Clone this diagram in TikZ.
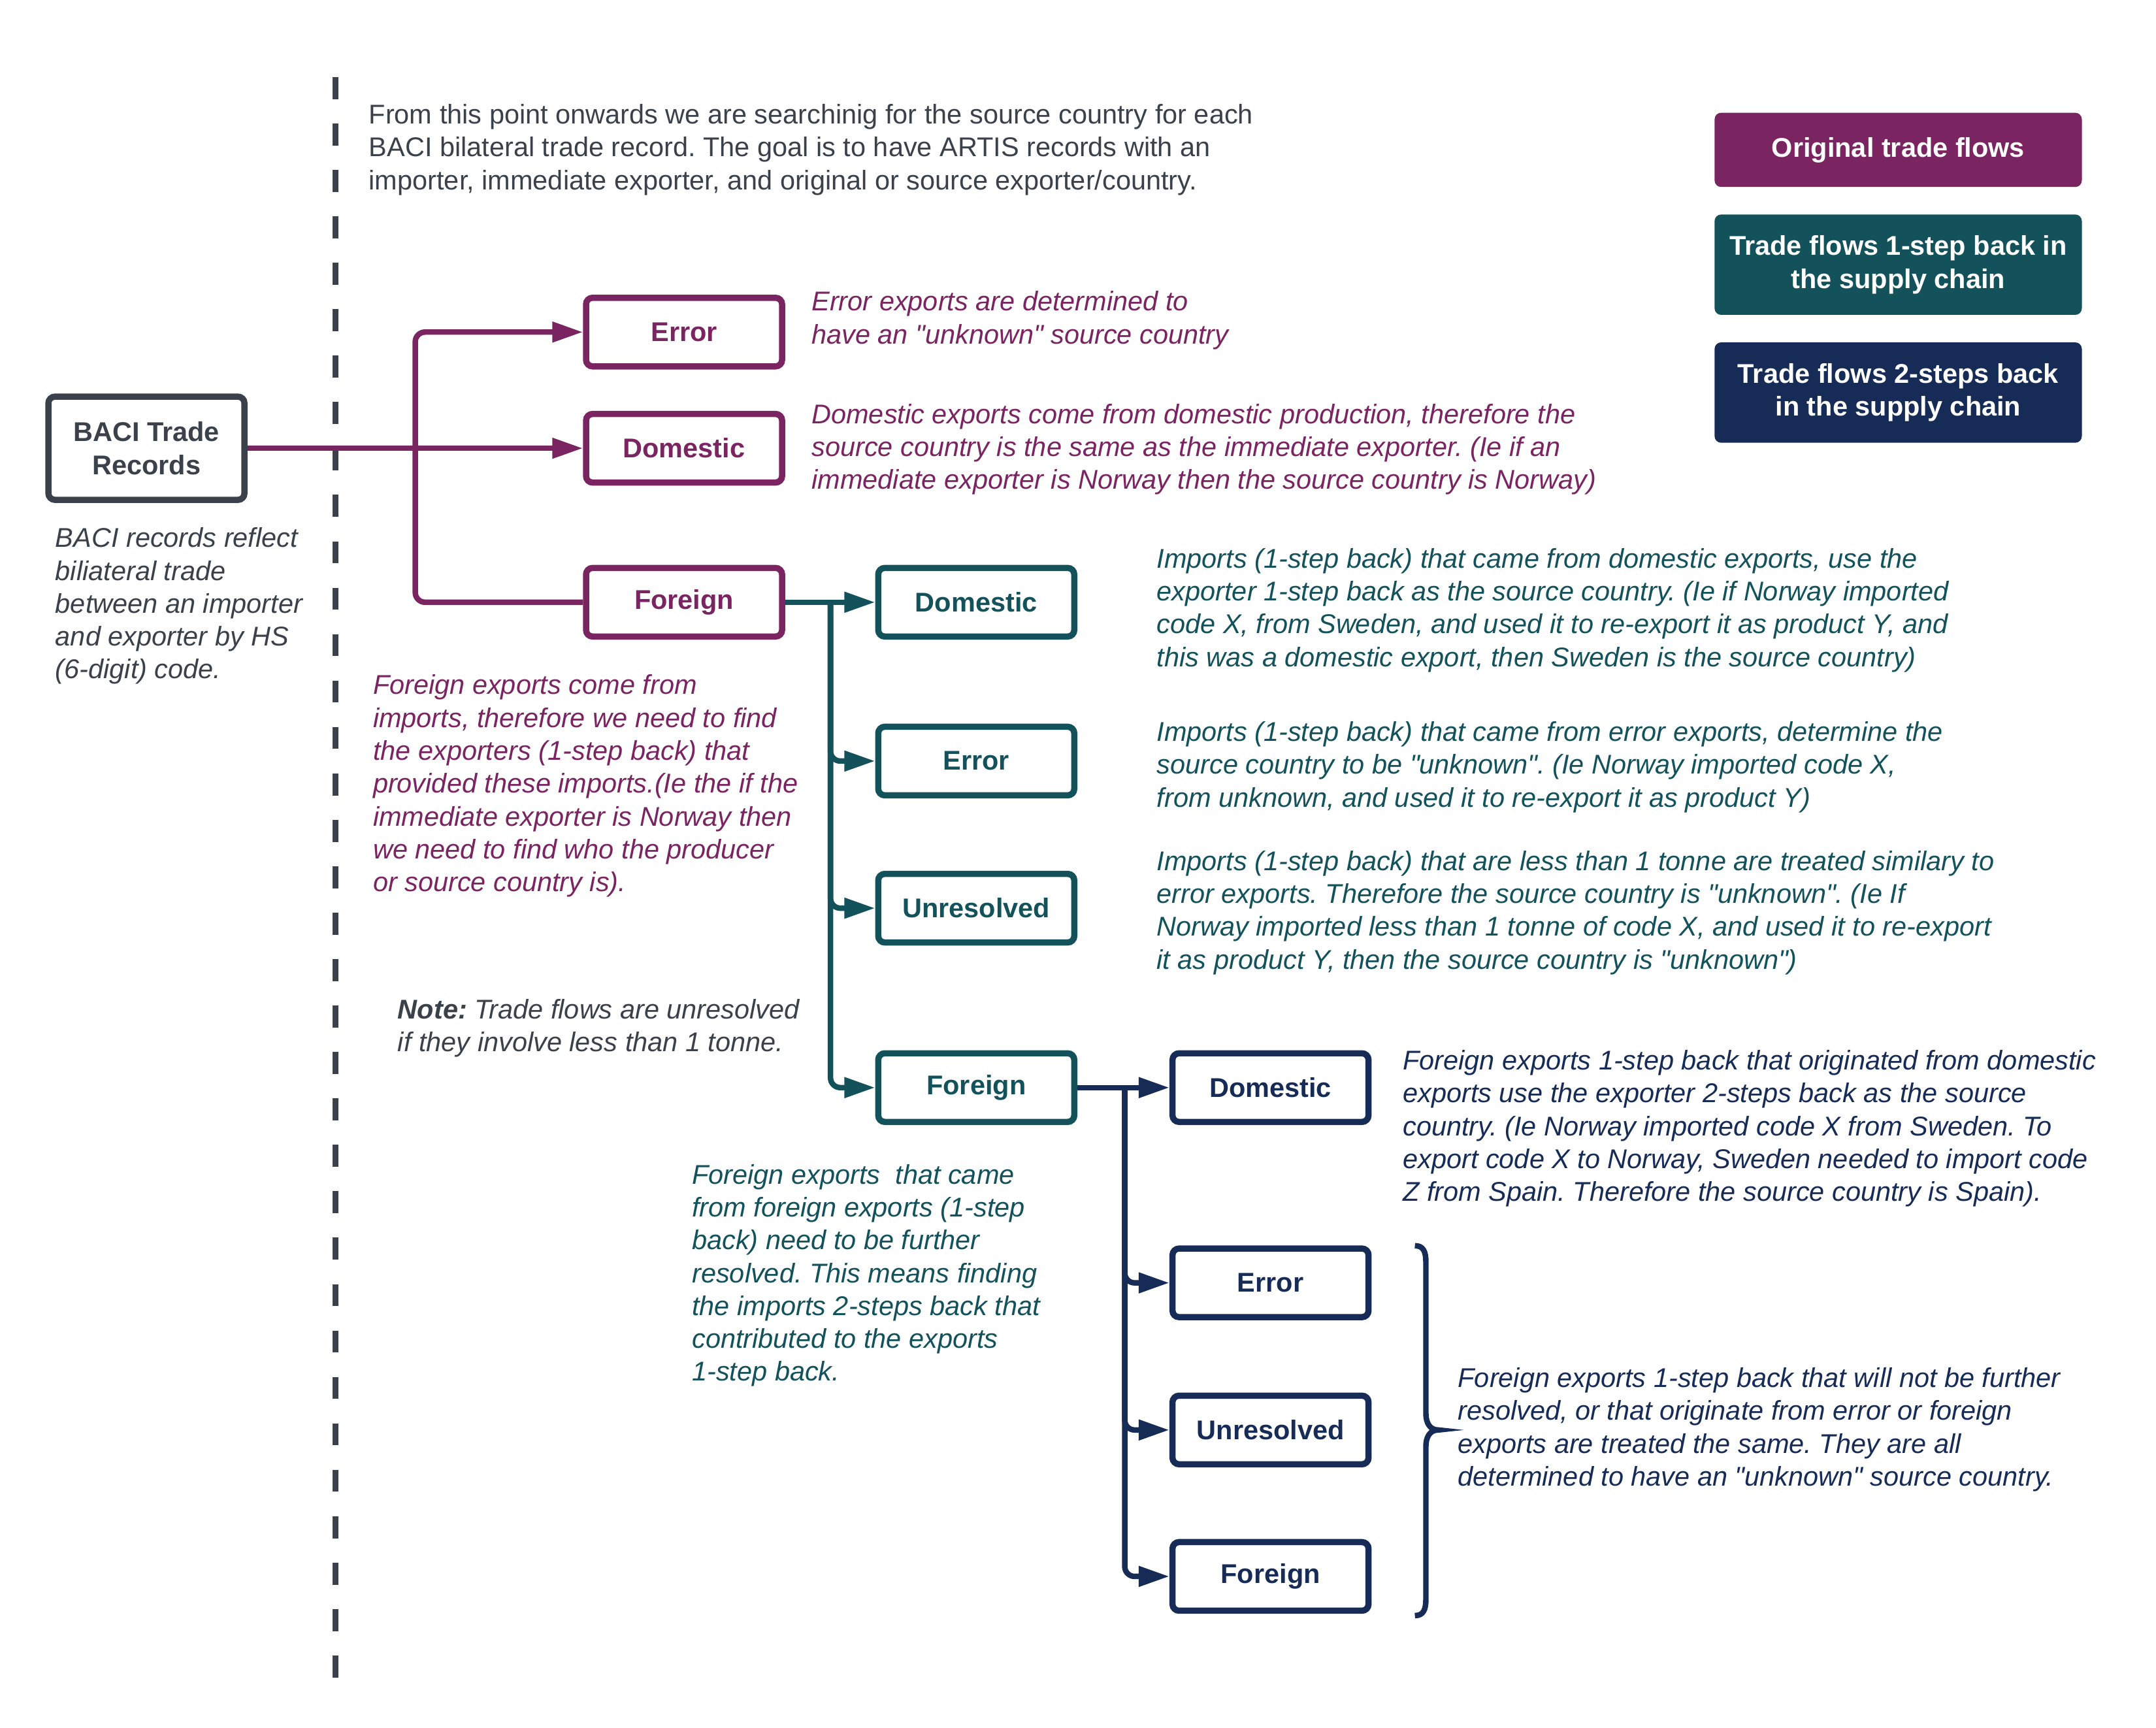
\documentclass[tikz,border=0pt]{standalone}
\usepackage{fontspec}
\setmainfont{Liberation Sans}
\usetikzlibrary{arrows.meta}
\frenchspacing
\definecolor{cgray}{HTML}{3A414A}
\definecolor{cpur}{HTML}{7A2461}
\definecolor{cteal}{HTML}{13515B}
\definecolor{cnavy}{HTML}{172B57}
\newcommand\fsz{\fontsize{11.8pt}{14.3pt}\selectfont}
\newcommand\qq{\textquotedbl}
\tikzset{
  box/.style={draw, line width=2.7pt, rounded corners=1mm, minimum width=3.0cm,
    minimum height=1.05cm, font=\fsz\bfseries, inner sep=0pt, fill=white},
  pbox/.style={box, draw=cpur, text=cpur},
  tbox/.style={box, draw=cteal, text=cteal},
  nbox/.style={box, draw=cnavy, text=cnavy},
  conn/.style={line width=2.4pt, rounded corners=0.15cm},
  arr/.style={-{Triangle[length=0.47cm,width=0.3cm]}},
  ann/.style={anchor=north west, align=left, inner sep=0pt, font=\fsz\itshape},
  legendbox/.style={rounded corners=1mm, text=white, font=\fsz\bfseries,
    align=center, minimum width=5.62cm, inner sep=0pt},
}
\begin{document}
\begin{tikzpicture}[x=0.021046cm, y=-0.021046cm]
\useasboundingbox (0,0) rectangle (1568,1256.3);

% dashed divider
\draw[cgray, line width=2.3pt, dash pattern=on 0.3367cm off 0.3738cm] (244,56) -- (244,1220);

% top text
\node[ann, font=\fsz, text=cgray] (toptext) at (268,73) {\strut From this point onwards we are searchinig for the source country for each\\
BACI bilateral trade record. The goal is to have ARTIS records with an\\
importer, immediate exporter, and original or source exporter/country.};

% legend
\node[legendbox, fill=cpur, minimum height=1.136cm] (leg1) at (1380.5,109) {Original trade flows};
\node[legendbox, fill=cteal, minimum height=1.536cm] (leg2) at (1380.5,192.5) {Trade flows 1-step back in\\the supply chain};
\node[legendbox, fill=cnavy, minimum height=1.536cm] (leg3) at (1380.5,285.5) {Trade flows 2-steps back\\in the supply chain};

% BACI box
\node[box, draw=cgray, text=cgray, minimum height=1.58cm, align=center] (baci) at (106.5,326) {BACI Trade\\Records};

% level 1
\node[pbox] (err1) at (497.5,241.5) {Error};
\node[pbox] (dom1) at (497.5,326) {Domestic};
\node[pbox] (for1) at (497.5,438) {Foreign};

% level 2
\node[tbox] (tdom) at (710,438) {Domestic};
\node[tbox] (terr) at (710,553.5) {Error};
\node[tbox] (tunr) at (710,660.5) {Unresolved};
\node[tbox] (tfor) at (710,791) {Foreign};

% level 3
\node[nbox] (ndom) at (924,791) {Domestic};
\node[nbox] (nerr) at (924,933) {Error};
\node[nbox] (nunr) at (924,1040) {Unresolved};
\node[nbox] (nfor) at (924,1146.5) {Foreign};

% junctions
\coordinate (j1) at (302,326);
\coordinate (j2) at (604,438);
\coordinate (j3) at (818,791);

% purple connectors
\draw[conn, cpur, arr] (baci.east) -- (dom1.west);
\draw[conn, cpur, arr] (j1) |- (err1.west);
\draw[conn, cpur] (j1) |- (for1.west);

% teal connectors
\draw[conn, cteal, arr] (for1.east) -- (tdom.west);
\draw[conn, cteal, arr] (j2) |- (terr.west);
\draw[conn, cteal, arr] (j2) |- (tunr.west);
\draw[conn, cteal, arr] (j2) |- (tfor.west);

% navy connectors
\draw[conn, cnavy, arr] (tfor.east) -- (ndom.west);
\draw[conn, cnavy, arr] (j3) |- (nerr.west);
\draw[conn, cnavy, arr] (j3) |- (nunr.west);
\draw[conn, cnavy, arr] (j3) |- (nfor.west);

% brace
\draw[cnavy, line width=2.4pt] (1029,906) .. controls (1035,906) and (1037,910) .. (1037,918)
  -- (1037,1028) .. controls (1037,1035) and (1040,1040) .. (1046,1040)
  .. controls (1040,1040) and (1037,1045) .. (1037,1052)
  -- (1037,1163) .. controls (1037,1171) and (1035,1175) .. (1029,1175);

% annotations
\node[ann, text=cpur] (errtext) at (590,209) {\strut Error exports are determined to\\
have an \qq unknown\qq{} source country};
\node[ann, text=cpur] (domtext) at (590,291) {\strut Domestic exports come from domestic production, therefore the\\
source country is the same as the immediate exporter. (Ie if an\\
immediate exporter is Norway then the source country is Norway)};
\node[ann, text=cgray] (bacitext) at (40,381) {\strut BACI records reflect\\
biliateral trade\\
between an importer\\
and exporter by HS\\
(6-digit) code.};
\node[ann, text=cpur] (fortext) at (271,488) {\strut Foreign exports come from\\
imports, therefore we need to find\\
the exporters (1-step back) that\\
provided these imports.(Ie the if the\\
immediate exporter is Norway then\\
we need to find who the producer\\
or source country is).};
\node[ann, text=cgray] (notetext) at (289,724) {\strut\textbf{Note:} Trade flows are unresolved\\
if they involve less than 1 tonne.};
\node[ann, text=cteal] (tdomtext) at (841,396) {\strut Imports (1-step back) that came from domestic exports, use the\\
exporter 1-step back as the source country. (Ie if Norway imported\\
code X, from Sweden, and used it to re-export it as product Y, and\\
this was a domestic export, then Sweden is the source country)};
\node[ann, text=cteal] (terrtext) at (841,522) {\strut Imports (1-step back) that came from error exports, determine the\\
source country to be \qq unknown\qq. (Ie Norway imported code X,\\
from unknown, and used it to re-export it as product Y)};
\node[ann, text=cteal] (tunrtext) at (841,616) {\strut Imports (1-step back) that are less than 1 tonne are treated similary to\\
error exports. Therefore the source country is \qq unknown\qq. (Ie If\\
Norway imported less than 1 tonne of code X, and used it to re-export\\
it as product Y, then the source country is \qq unknown\qq)};
\node[ann, text=cteal] (tfortext) at (503,844) {\strut Foreign exports\ \ that came\\
from foreign exports (1-step\\
back) need to be further\\
resolved. This means finding\\
the imports 2-steps back that\\
contributed to the exports\\
1-step back.};
\node[ann, text=cnavy] (ndomtext) at (1020,761) {\strut Foreign exports 1-step back that originated from domestic\\
exports use the exporter 2-steps back as the source\\
country. (Ie Norway imported code X from Sweden. To\\
export code X to Norway, Sweden needed to import code\\
Z from Spain. Therefore the source country is Spain).};
\node[ann, text=cnavy] (nresttext) at (1060,992) {\strut Foreign exports 1-step back that will not be further\\
resolved, or that originate from error or foreign\\
exports are treated the same. They are all\\
determined to have an \qq unknown\qq{} source country.};
\end{tikzpicture}
\end{document}
